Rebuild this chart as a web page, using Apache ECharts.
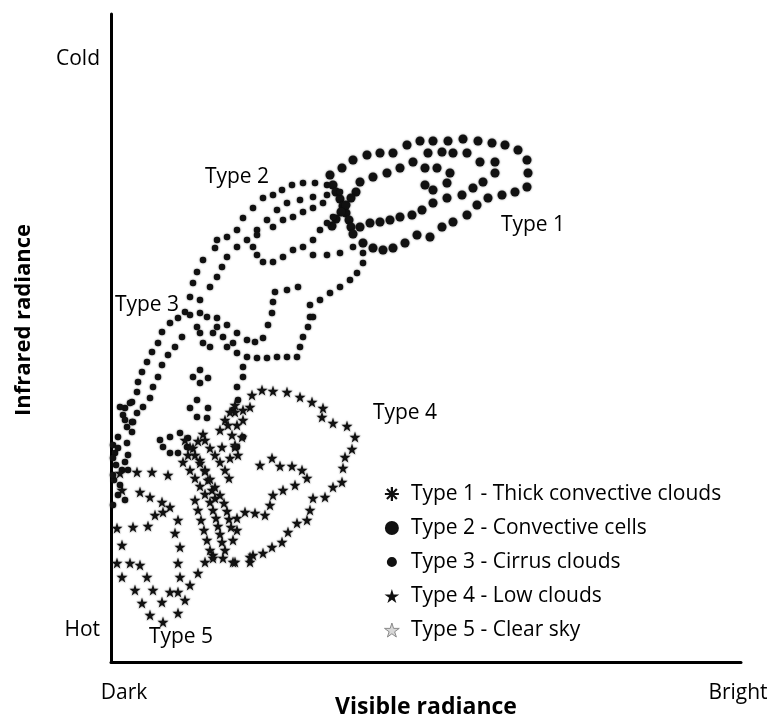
<!DOCTYPE html>
<html>
<head>
<meta charset="utf-8">
<script src="https://cdn.jsdelivr.net/npm/echarts@6/dist/echarts.min.js"></script>
<style>
html,body{margin:0;padding:0;background:#fff;}
#chart{width:770px;height:717px;}
</style>
</head>
<body>
<div id="chart"></div>
<script>
// Visible radiance (x, dark -> bright) and infrared radiance (y, cold -> hot), arbitrary units
const type1Points = [
  [219,161],[231,154],[242,146],[256,141],[269,139],[282,139],[296,131],[309,127],[322,127],[337,127],
  [352,125],[367,127],[381,129],[394,131],[407,136],[416,146],[417,159],[416,173],[404,178],[391,181],
  [377,184],[366,191],[356,201],[342,208],[331,213],[319,223],[306,221],[294,229],[282,234],[272,236],
  [262,234],[252,229],
  [317,139],[331,138],[342,139],[356,139],[369,148],[384,148],[384,159],[372,168],[362,174],[351,181],
  [336,184],[322,189],[311,196],[301,201],[289,203],[279,206],[269,208],[259,209],[249,213],
  [249,168],[262,163],[276,159],[289,154],[302,148],[314,154],[326,154],[339,159],[336,169],[322,176],[314,171],
  [222,171],[225,178],[229,185],[232,192],[235,199],[238,206],[240,213],[242,220],[245,178],[240,184],
  [235,191],[230,198],[225,205],[221,212]
];
const type2Points = [
  [79,283],[82,269],[86,258],[92,246],[104,234],[106,226],[116,223],[126,216],[132,204],[142,194],
  [152,184],[162,181],[171,176],[181,171],[192,169],[204,169],[216,171],
  [89,286],[99,273],[106,263],[111,253],[116,243],[126,233],[136,226],[146,216],[156,206],[166,196],
  [176,189],[189,186],[202,183],[216,181],[229,178],
  [142,233],[146,241],[152,248],[162,248],[172,243],[182,236],[192,233],[202,226],[209,216],[216,209],[222,203],
  [146,221],[162,213],[172,206],[182,203],[192,198],[202,194],[212,189],
  [202,241],[216,241],[229,239],[242,233],[252,239],[252,249],[246,259],[239,266],[229,273],[219,279],
  [209,286],[199,291],[199,303],
  [164,278],[176,276],[187,273],[162,288],[161,299],[157,311],
  [152,324],[146,344],[156,344],[166,343],[176,343],[186,343],[189,333],[192,323],[197,313],[202,303]
];
const type3Points = [
  [74,298],[67,304],[59,309],[51,318],[47,329],[41,338],[36,348],[31,358],[27,368],[26,378],
  [21,388],[14,394],[12,401],[16,413],
  [71,323],[64,333],[57,341],[51,351],[47,363],[42,373],[39,384],[32,393],[26,399],[21,408],
  [79,301],[89,299],[96,303],[106,304],[116,311],[126,319],[136,326],[144,328],
  [86,313],[89,319],[92,329],[99,333],[102,319],[106,313],[112,323],[116,333],[122,329],[126,339],[136,343],[132,353],
  [89,356],[82,363],[89,369],[97,364],
  [86,386],[79,394],[86,403],[96,404],[97,394],
  [49,426],[59,423],[69,419],[77,424],[76,433],[67,439],[59,439],[52,433],
  [132,363],[126,373],[127,386],[122,396],[132,423],[126,433],
  [9,393],[19,389],[14,406],[22,408],[21,418],[7,423],[16,429],[4,439],[17,441],[5,451],[11,456],[3,466],[9,471],
  [2,431],[7,434],[2,444],[14,448],[2,461],[17,456],[7,481],[2,491],[14,486]
];
const type4Points = [
  [151,376],[162,377],[176,378],[189,383],[201,388],[212,394],[211,403],[222,409],[236,412],[244,423],
  [241,435],[234,443],[232,454],[231,468],[222,473],[214,483],[202,484],[199,496],[196,506],[186,509],
  [177,518],[171,528],[161,533],[152,539],[142,541],[139,548],[124,548],
  [141,381],[139,393],[132,396],[124,398],[132,406],[126,411],[131,423],[124,433],
  [149,451],[161,444],[169,452],[181,452],[191,456],[196,464],[184,471],[172,476],[162,481],[159,491],
  [154,501],[144,499],[134,498],[126,504],[126,516],[122,526],
  [139,543],[122,548],[112,544],[102,541],
  [94,426],[99,434],[104,441],[109,448],[114,456],[118,464],
  [79,456],[84,464],[89,472],[94,480],[99,488],[102,496],[105,504],[107,512],[109,520],[111,528],[114,536],
  [72,448],[77,441],[82,434],[87,427],[92,420],
  [89,446],[94,456],[97,466],[101,476],[104,484],
  [109,416],[114,406],[119,398],[124,391],
  [74,426],[79,433],[84,441],[89,449],[94,457],[99,465],[104,473],[109,481],[113,489],[116,497],[118,505],[120,513],
  [84,486],[87,496],[90,506],[93,516],[96,526],[99,536],[102,544],
  [117,411],[121,421],[124,431],[127,441],[119,444],[111,433]
];
const type5Points = [
  [9,459],[26,458],[41,458],[57,461],[11,476],[29,478],[39,483],[51,488],[59,493],[6,514],
  [22,513],[37,512],[44,501],[52,498],[11,531],[6,549],[19,549],[29,551],[11,563],[36,563],
  [24,576],[42,576],[31,589],[51,588],[39,601],[52,608],[67,599],[74,586],[67,578],[59,578],
  [69,563],[79,571],[87,559],[94,548],[67,549],[69,533],[64,519],[67,506]
];
const seriesNames = ['Type 1 - Thick convective clouds','Type 2 - Convective cells','Type 3 - Cirrus clouds','Type 4 - Low clouds','Type 5 - Clear sky'];
const typeLabels = ['Type 1','Type 2','Type 3','Type 4','Type 5'];
const typeLabelX = [422,126,36,294,70];
const typeLabelY = [211,163,291,399,623];
const xTickValues = [13,627];
const xTickLabels = ['Dark','Bright'];
const yTickValues = [45,616];
const yTickLabels = ['Cold','Hot'];

const FONT = '"Open Sans", "Noto Sans", sans-serif';
const INK = '#000';
const STAR = 'path://M50,0 L61,35 L98,35 L68,57 L79,91 L50,70 L21,91 L32,57 L2,35 L39,35 Z';
const ASTER = 'path://M42,0 L58,0 L58,100 L42,100 Z M0,42 L100,42 L100,58 L0,58 Z M9,20 L20,9 L91,80 L80,91 Z M80,9 L91,20 L20,91 L9,80 Z';
const SMALL_DOT = 'path://M0,0 L0.1,0 L0,0.1 Z M100,100 L99.9,100 L100,99.9 Z M14,50 A36,36 0 1,0 86,50 A36,36 0 1,0 14,50 Z';

const chart = echarts.init(document.getElementById('chart'));
const dotStyle = {color: '#111', opacity: 1, shadowBlur: 2, shadowColor: 'rgba(0,0,0,0.55)'};

chart.setOption({
  backgroundColor: '#fff',
  animation: false,
  grid: {left: 111, right: 29, top: 14, bottom: 55, containLabel: false, outerBoundsMode: 'none'},
  xAxis: {
    type: 'value', min: 0, max: 630, position: 'bottom',
    axisLine: {show: true, onZero: false, lineStyle: {color: '#000', width: 3}},
    axisTick: {show: false}, splitLine: {show: false},
    axisLabel: {
      customValues: xTickValues,
      formatter: v => xTickLabels[xTickValues.indexOf(v)] || '',
      fontFamily: FONT, fontSize: 21, color: INK, margin: 21
    },
    name: 'Visible radiance', nameLocation: 'middle', nameGap: 34, nameMoveOverlap: false,
    nameTextStyle: {fontFamily: FONT, fontSize: 23, fontWeight: 'bold', color: INK}
  },
  yAxis: {
    type: 'value', min: 0, max: 648, inverse: true,
    axisLine: {show: true, onZero: false, lineStyle: {color: '#000', width: 3}},
    axisTick: {show: false}, splitLine: {show: false},
    axisLabel: {
      customValues: yTickValues,
      formatter: v => yTickLabels[yTickValues.indexOf(v)] || '',
      fontFamily: FONT, fontSize: 21, color: INK, margin: 11
    }
  },
  graphic: [{
    type: 'text', x: 24, y: 320, rotation: Math.PI / 2,
    style: {text: 'Infrared radiance', font: 'bold 22px ' + FONT, fill: INK, align: 'center', verticalAlign: 'middle'}
  }],
  legend: {
    orient: 'vertical', left: 379, top: 478, itemGap: 12, itemWidth: 28, itemHeight: 14,
    textStyle: {fontFamily: FONT, fontSize: 21, color: INK, lineHeight: 22},
    data: [
      {name: seriesNames[0], icon: ASTER, itemStyle: {color: '#111'}},
      {name: seriesNames[1], icon: 'circle', itemStyle: {color: '#111'}},
      {name: seriesNames[2], icon: SMALL_DOT, itemStyle: {color: '#111'}},
      {name: seriesNames[3], icon: STAR, itemStyle: {color: '#111'}},
      {name: seriesNames[4], icon: STAR, itemStyle: {color: '#d8d8d8', borderColor: '#8a8a8a', borderWidth: 1}}
    ]
  },
  series: [
    {name: seriesNames[0], type: 'scatter', data: type1Points, symbol: 'circle', symbolSize: 9, itemStyle: dotStyle},
    {name: seriesNames[1], type: 'scatter', data: type2Points, symbol: 'circle', symbolSize: 6.5, itemStyle: dotStyle},
    {name: seriesNames[2], type: 'scatter', data: type3Points, symbol: 'circle', symbolSize: 6.5, itemStyle: dotStyle},
    {name: seriesNames[3], type: 'scatter', data: type4Points, symbol: STAR, symbolSize: 11, itemStyle: dotStyle},
    {name: seriesNames[4], type: 'scatter', data: type5Points, symbol: STAR, symbolSize: 11, itemStyle: dotStyle},
    {
      name: 'labels', type: 'scatter', symbolSize: 0, silent: true,
      itemStyle: {opacity: 1},
      data: typeLabels.map((t, i) => ({name: t, value: [typeLabelX[i], typeLabelY[i]]})),
      label: {show: true, position: 'inside', formatter: p => p.name, fontFamily: FONT, fontSize: 21, color: INK}
    }
  ]
});
</script>
</body>
</html>
